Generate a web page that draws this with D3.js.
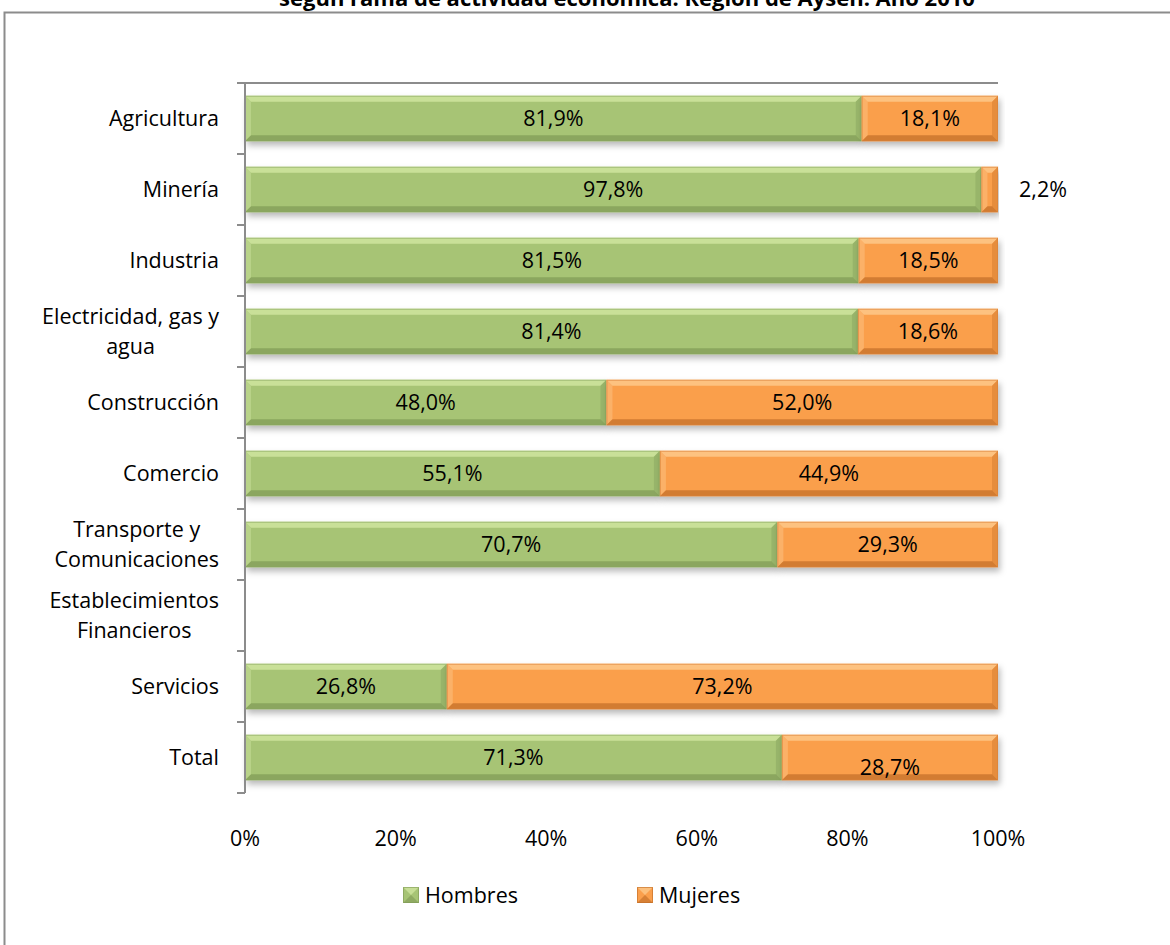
<!DOCTYPE html>
<html><head><meta charset="utf-8">
<script src="https://cdn.jsdelivr.net/npm/d3@7/dist/d3.min.js"></script>
<style>body{margin:0;background:#fff}svg{display:block;font-family:"Open Sans","Noto Sans",sans-serif}</style>
</head><body>
<svg id="c" width="1170" height="945"></svg>
<script>
const titleText = "según rama de actividad económica. Región de Aysén. Año 2010";
const categories = ["Agricultura","Minería","Industria","Electricidad, gas y\nagua","Construcción","Comercio","Transporte y\nComunicaciones","Establecimientos\nFinancieros","Servicios","Total"];
const hombres = [81.9, 97.8, 81.5, 81.4, 48.0, 55.1, 70.7, null, 26.8, 71.3];
const mujeres = [18.1, 2.2, 18.5, 18.6, 52.0, 44.9, 29.3, null, 73.2, 28.7];
const seriesNames = ["Hombres","Mujeres"];
const xTicks = [0, 20, 40, 60, 80, 100];

const svg = d3.select("#c");
const margin = {left:245, right:998, top:83, bottom:793};
const FS = 21.5;
const colors = {Hombres:{base:"#a7c475", light:"#cfe59f", dark:"#7f9a55", edge:"#8aa860"},
                Mujeres:{base:"#fa9f4c", light:"#fdc88a", dark:"#c06d26", edge:"#d9823a"}};

const defs = svg.append("defs");
const f = defs.append("filter").attr("id","sh").attr("x","-5%").attr("y","-20%").attr("width","110%").attr("height","160%");
f.append("feDropShadow").attr("dx",2).attr("dy",4).attr("stdDeviation",3).attr("flood-color","#000").attr("flood-opacity",0.28);

// outer border
svg.append("rect").attr("x",4.5).attr("y",12.5).attr("width",1180).attr("height",960).attr("fill","none").attr("stroke","#8c8c8c").attr("stroke-width",2);

// title (clipped at top as in the reference)
svg.append("text").attr("x",627).attr("y",6).attr("text-anchor","middle").attr("font-weight","bold").attr("font-size",22).attr("fill","#000").text(titleText);

const x = d3.scaleLinear().domain([0,100]).range([margin.left, margin.right]);
const y = d3.scaleBand().domain(categories).range([margin.top, margin.bottom]).paddingInner(0.36).paddingOuter(0.18);

// top frame line
svg.append("line").attr("x1",237).attr("x2",margin.right).attr("y1",margin.top).attr("y2",margin.top).attr("stroke","#8c8c8c").attr("stroke-width",2);

const rows = categories.map((c,i)=>({cat:c, segs: hombres[i]==null?[]:[
  {s:"Hombres", x0:0, x1:hombres[i], v:hombres[i]},
  {s:"Mujeres", x0:hombres[i], x1:hombres[i]+mujeres[i], v:mujeres[i]}]}));

function bevelBar(g, x0, y0, w, h, col){
  const b = Math.min(6, w/2, h/2);
  const gg = g.append("g").attr("filter","url(#sh)");
  gg.append("rect").attr("x",x0).attr("y",y0).attr("width",w).attr("height",h).attr("fill",col.base);
  gg.append("polygon").attr("points",[[x0,y0],[x0+w,y0],[x0+w-b,y0+b],[x0+b,y0+b]].join(" ")).attr("fill",col.light).attr("opacity",0.85);
  gg.append("polygon").attr("points",[[x0,y0],[x0+b,y0+b],[x0+b,y0+h-b],[x0,y0+h]].join(" ")).attr("fill",col.light).attr("opacity",0.45);
  gg.append("polygon").attr("points",[[x0+w,y0],[x0+w,y0+h],[x0+w-b,y0+h-b],[x0+w-b,y0+b]].join(" ")).attr("fill",col.dark).attr("opacity",0.35);
  gg.append("polygon").attr("points",[[x0,y0+h],[x0+b,y0+h-b],[x0+w-b,y0+h-b],[x0+w,y0+h]].join(" ")).attr("fill",col.dark).attr("opacity",0.7);
  gg.append("rect").attr("x",x0+0.5).attr("y",y0+0.5).attr("width",Math.max(0,w-1)).attr("height",h-1).attr("fill","none").attr("stroke",col.edge).attr("stroke-width",1).attr("opacity",0.6);
}

const barG = svg.append("g");
rows.forEach(r=>{
  r.segs.forEach(s=>{
    bevelBar(barG, x(s.x0), y(r.cat), x(s.x1)-x(s.x0), y.bandwidth(), colors[s.s]);
  });
});

// data labels
const fmt = v => v.toFixed(1).replace(".", ",") + "%";
rows.forEach(r=>{
  r.segs.forEach(s=>{
    const w = x(s.x1)-x(s.x0);
    let lx = (x(s.x0)+x(s.x1))/2, ly = y(r.cat)+y.bandwidth()/2;
    if (w < 40) { lx = x(s.x1) + 45; }
    if (r.cat === "Total" && s.s === "Mujeres") ly += 10;
    svg.append("text").attr("x",lx).attr("y",ly).attr("dy","0.35em").attr("text-anchor","middle")
      .attr("font-size",FS).attr("fill","#000").text(fmt(s.v));
  });
});

// y axis
svg.append("line").attr("x1",margin.left).attr("x2",margin.left).attr("y1",margin.top).attr("y2",margin.bottom).attr("stroke","#8c8c8c").attr("stroke-width",2);
d3.range(categories.length+1).forEach(k=>{
  const ty = margin.top + k*(margin.bottom-margin.top)/categories.length;
  svg.append("line").attr("x1",237).attr("x2",margin.left).attr("y1",ty).attr("y2",ty).attr("stroke","#8c8c8c").attr("stroke-width",2);
});

// category labels
categories.forEach(c=>{
  const lines = c.split("\n");
  const cy = y(c)+y.bandwidth()/2;
  const g = svg.append("g");
  const lh = 30;
  const ts = lines.map((ln,j)=> g.append("text").attr("y", cy + (j-(lines.length-1)/2)*lh).attr("dy","0.35em")
      .attr("text-anchor","middle").attr("font-size",FS).attr("fill","#000").text(ln));
  const maxW = d3.max(ts, t=>t.node().getComputedTextLength());
  ts.forEach(t=>t.attr("x", 219 - maxW/2));
});

// x tick labels
xTicks.forEach(t=>{
  svg.append("text").attr("x",x(t)).attr("y",838).attr("dy","0.35em").attr("text-anchor","middle").attr("font-size",FS).attr("fill","#000").text(t+"%");
});

// legend
const legX = [403, 637];
seriesNames.forEach((s,i)=>{
  const col = colors[s];
  const lx = legX[i], ly = 887, sz = 16;
  const g = svg.append("g");
  g.append("rect").attr("x",lx).attr("y",ly).attr("width",sz).attr("height",sz).attr("fill",col.base);
  g.append("polygon").attr("points",[[lx,ly],[lx+sz,ly],[lx+sz/2,ly+sz/2]].join(" ")).attr("fill",col.light).attr("opacity",0.8);
  g.append("polygon").attr("points",[[lx,ly+sz],[lx+sz,ly+sz],[lx+sz/2,ly+sz/2]].join(" ")).attr("fill",col.dark).attr("opacity",0.6);
  g.append("rect").attr("x",lx+0.5).attr("y",ly+0.5).attr("width",sz-1).attr("height",sz-1).attr("fill","none").attr("stroke",col.dark).attr("opacity",0.6);
  svg.append("text").attr("x",lx+sz+6).attr("y",ly+sz/2).attr("dy","0.35em").attr("font-size",FS).attr("fill","#000").text(s);
});
</script>
</body></html>
